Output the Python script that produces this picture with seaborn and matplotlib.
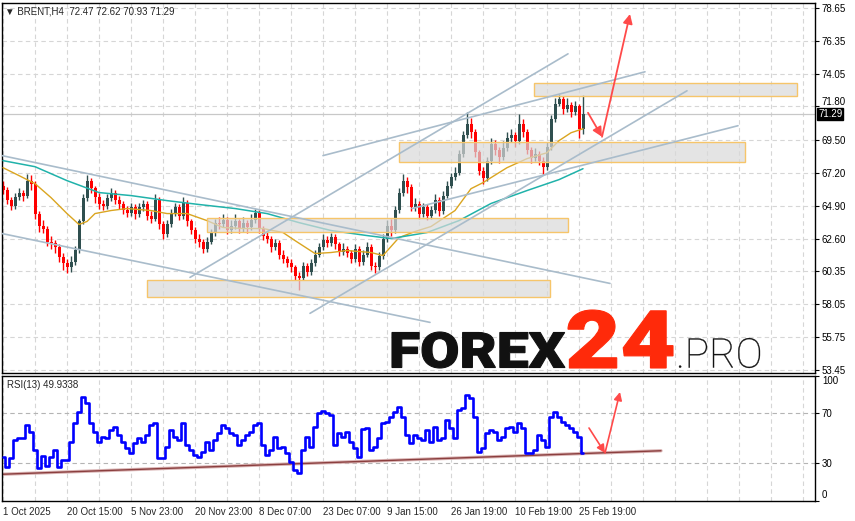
import numpy as np
import pandas as pd
import matplotlib
matplotlib.use("Agg")
import matplotlib.pyplot as plt
import matplotlib.patches as mpatches
import matplotlib.transforms as mtransforms
from matplotlib.textpath import TextPath
from matplotlib.font_manager import FontProperties
import seaborn as sns

# =====================================================
# Data (BRENT H4, one value per ~4px column of the chart)
# =====================================================

first_open = 66.3

closes = [
    66.0, 65.3, 64.9, 65.5, 65.8, 65.6, 66.6, 66.4, 64.3, 63.5,
    63.3, 62.4, 62.3, 62.0, 61.3, 60.9, 60.6, 61.0, 61.8, 63.8,
    65.4, 66.6, 66.1, 65.5, 65.0, 64.9, 65.4, 65.8, 65.3, 65.0,
    64.6, 64.4, 64.8, 64.3, 64.8, 65.0, 64.2, 64.0, 65.3, 63.6,
    62.9, 63.6, 64.4, 64.8, 64.2, 65.1, 63.8, 63.2, 62.6, 62.4,
    61.9, 62.4, 63.0, 63.7, 63.6, 63.9, 63.2, 63.5, 63.8, 63.3,
    63.7, 63.4, 63.9, 64.4, 63.3, 62.8, 62.6, 62.0, 62.3, 61.5,
    61.2, 60.9, 60.6, 60.0, 59.9, 60.7, 60.3, 60.9, 61.5, 62.0,
    62.5, 62.3, 62.7, 62.2, 61.7, 61.9, 61.6, 61.2, 61.9, 61.0,
    61.5, 62.0, 60.7, 60.6, 61.4, 62.6, 63.5, 63.2, 64.6, 65.8,
    66.6, 66.2, 64.8, 65.0, 64.3, 64.8, 64.2, 64.6, 65.3, 64.5,
    65.6, 66.3, 66.9, 67.2, 68.5, 69.8, 70.6, 70.0, 68.6, 67.3,
    66.8, 68.0, 69.2, 68.8, 68.3, 68.9, 69.6, 69.8, 69.4, 70.6,
    70.0, 68.8, 68.2, 68.5, 68.0, 67.6, 69.0, 70.9, 72.0, 72.3,
    71.6, 71.9, 71.4, 71.8, 70.2, 71.29,
]

highs = [
    66.6, 66.2, 65.5, 65.8, 66.1, 66.0, 67.1, 67.0, 66.6, 64.5,
    63.9, 63.5, 62.8, 62.5, 62.2, 61.6, 61.2, 61.4, 62.1, 64.0,
    65.7, 67.0, 66.8, 66.3, 65.8, 65.3, 65.7, 66.1, 66.0, 65.6,
    65.2, 64.9, 65.1, 65.0, 65.1, 65.3, 65.2, 64.5, 65.7, 65.5,
    63.8, 63.9, 64.7, 65.1, 65.0, 65.5, 65.3, 64.0, 63.4, 62.9,
    62.6, 62.7, 63.3, 64.0, 64.1, 64.3, 64.1, 63.9, 64.3, 64.0,
    64.1, 63.9, 64.3, 64.7, 64.6, 63.5, 63.1, 62.8, 62.6, 62.5,
    61.8, 61.4, 61.2, 60.8, 60.3, 61.0, 60.9, 61.2, 61.8, 62.3,
    62.9, 62.8, 63.0, 62.9, 62.4, 62.3, 62.1, 61.8, 62.2, 62.1,
    61.8, 62.4, 62.2, 61.0, 61.7, 62.9, 63.9, 64.0, 64.9, 66.1,
    67.1, 66.9, 66.4, 65.4, 65.2, 65.1, 65.0, 64.9, 65.7, 65.5,
    65.9, 66.6, 67.2, 67.6, 68.8, 70.1, 71.4, 71.0, 70.2, 68.8,
    67.6, 68.3, 69.6, 69.5, 69.0, 69.4, 70.0, 70.2, 70.0, 71.3,
    70.9, 70.2, 69.0, 68.9, 68.7, 68.3, 69.3, 71.2, 72.4, 72.7,
    72.5, 72.4, 72.1, 72.2, 72.0, 72.62,
]

lows = [
    65.7, 65.0, 64.6, 64.7, 65.3, 65.2, 65.4, 66.0, 64.0, 63.1,
    63.0, 62.1, 61.9, 61.6, 61.0, 60.4, 60.2, 60.3, 60.8, 61.6,
    63.6, 65.2, 65.8, 65.1, 64.7, 64.6, 64.7, 65.2, 65.0, 64.7,
    64.3, 64.1, 64.2, 64.0, 64.1, 64.5, 63.9, 63.7, 63.8, 63.3,
    62.6, 62.7, 63.4, 64.2, 63.9, 64.0, 63.5, 62.9, 62.3, 62.0,
    61.6, 61.7, 62.2, 62.8, 63.3, 63.4, 62.9, 63.0, 63.3, 63.0,
    63.1, 63.0, 63.2, 63.7, 63.0, 62.5, 62.3, 61.7, 61.8, 61.2,
    60.9, 60.6, 60.3, 59.7, 59.0, 59.7, 60.0, 60.1, 60.7, 61.3,
    61.8, 62.0, 62.1, 61.9, 61.4, 61.5, 61.3, 60.9, 61.0, 60.7,
    60.8, 61.3, 60.4, 60.2, 60.4, 61.2, 62.4, 62.8, 63.0, 64.4,
    65.6, 65.8, 64.5, 64.5, 64.0, 64.1, 63.9, 64.0, 64.4, 64.2,
    64.3, 65.4, 66.1, 66.7, 67.0, 68.3, 69.6, 69.6, 68.3, 67.0,
    66.4, 66.6, 67.8, 68.4, 67.9, 68.1, 68.7, 69.3, 69.0, 69.2,
    69.7, 68.5, 67.9, 68.0, 67.7, 67.0, 67.4, 68.8, 70.7, 71.8,
    71.3, 71.4, 71.1, 71.2, 69.6, 69.9,
]

# moving averages (read at sparse bars)
ma_fast_bars = [0, 4, 8, 12, 16, 19, 21, 23, 27, 31, 37, 41, 46, 51, 55, 60, 65, 70,
                73, 78, 82, 86, 92, 95, 99, 103, 107, 113, 117, 120, 126, 131, 136,
                139, 142, 145]
ma_fast = [67.54, 66.99, 66.43, 65.46, 64.35, 63.59, 63.80, 64.35, 64.56, 64.70,
           64.56, 64.35, 64.35, 63.86, 63.38, 63.31, 63.31, 63.03, 62.47, 61.57,
           61.64, 61.78, 61.64, 61.43, 62.68, 63.10, 63.45, 64.56, 66.08, 66.50,
           67.54, 68.17, 68.58, 69.42, 69.97, 70.25]

ma_slow_bars = [0, 8, 16, 24, 32, 41, 49, 58, 66, 74, 82, 91, 97, 106, 114, 122,
                131, 139, 145]
ma_slow = [68.03, 67.61, 66.64, 65.81, 65.60, 65.25, 64.98, 64.70, 64.35, 63.72,
           63.17, 62.82, 62.61, 63.03, 63.86, 65.05, 65.95, 66.71, 67.47]

rsi = [
    35.1, 27.1, 33.7, 48.4, 49.7, 49.7, 60.4, 55.1, 40.4, 25.7,
    35.6, 27.6, 35.1, 40.4, 27.1, 32.4, 32.4, 47.1, 61.7, 71.1,
    82.5, 77.7, 61.7, 55.1, 47.1, 51.1, 49.7, 56.4, 59.1, 52.4,
    47.1, 41.7, 37.7, 45.7, 49.7, 47.1, 52.4, 60.4, 61.7, 33.7,
    33.7, 43.1, 56.4, 51.1, 48.4, 61.7, 44.4, 40.4, 36.4, 35.1,
    39.1, 47.1, 40.4, 48.4, 53.7, 60.4, 57.7, 53.7, 52.4, 44.4,
    48.4, 52.4, 55.1, 60.4, 61.7, 44.4, 36.4, 40.4, 51.1, 41.7,
    43.1, 37.7, 31.1, 24.4, 21.7, 40.4, 51.1, 43.1, 59.1, 69.7,
    71.9, 70.3, 68.4, 44.4, 53.7, 51.1, 55.1, 47.1, 41.7, 35.1,
    56.9, 57.7, 40.4, 43.1, 49.7, 61.7, 63.1, 67.1, 71.1, 75.1,
    67.1, 52.4, 45.7, 52.4, 49.7, 48.4, 56.4, 47.1, 59.1, 48.4,
    49.7, 64.4, 57.7, 49.7, 72.4, 73.7, 84.4, 81.7, 67.1, 39.1,
    41.7, 53.7, 56.4, 55.1, 48.4, 51.1, 57.7, 59.1, 55.1, 61.7,
    57.7, 37.7, 37.7, 40.4, 52.4, 48.4, 43.1, 67.1, 71.1, 67.1,
    63.1, 60.4, 57.7, 55.1, 51.1, 37.7,
]

# support / resistance zones
zone_start = [132.75, 99.0, 51.0, 36.0]
zone_end = [198.5, 185.5, 141.25, 136.75]
zone_low = [72.54, 67.96, 63.10, 58.52]
zone_high = [73.44, 69.35, 64.07, 59.70]

# trend lines (bar, price) -> (bar, price)
trend_b0 = [-0.25, -0.25, 76.75, 46.75, 80.0, 102.25]
trend_p0 = [68.38, 62.96, 57.41, 59.91, 68.38, 64.70]
trend_b1 = [151.75, 106.75, 171.0, 141.25, 160.5, 183.75]
trend_p1 = [59.49, 56.78, 72.89, 75.46, 74.21, 70.46]

# forecast arrows
arrow_bars = [146.25, 149.75, 156.75]
arrow_prices = [71.36, 69.69, 78.23]
rsi_arrow_bars = [146.5, 150.5, 154.25]
rsi_arrow_vals = [58.0, 38.0, 86.8]

rsi_trend_bars = [-0.25, 164.5]
rsi_trend_vals = [21.0, 39.8]

price_ticks = [78.65, 76.35, 74.05, 71.80, 69.50, 67.20, 64.90, 62.60,
               60.35, 58.05, 55.75, 53.45]
rsi_ticks = [100, 70, 30, 0]
time_labels = ["1 Oct 2025", "20 Oct 15:00", "5 Nov 23:00", "20 Nov 23:00",
               "8 Dec 07:00", "23 Dec 07:00", "9 Jan 15:00", "26 Jan 19:00",
               "10 Feb 19:00", "25 Feb 19:00"]
time_label_bars = [0, 16, 32, 48, 64, 80, 96, 112, 128, 144]

last_price = 71.29

# =====================================================
# Style
# =====================================================

sns.set_style("white")
plt.rcParams["font.family"] = ["Liberation Sans", "DejaVu Sans"]
plt.rcParams["font.size"] = 7

BULL = "#2F4F4F"
BEAR = "#FF0000"
GRID = "#D6D6D6"
TREND = "#A9BCCB"
ARROW = "#FF4A4A"

bars = np.arange(len(closes))
df = pd.DataFrame({
    "bar": bars,
    "open": np.r_[first_open, closes[:-1]],
    "high": highs,
    "low": lows,
    "close": closes,
})
up = df["close"] >= df["open"]
colors = np.where(up, BULL, BEAR)

W, H = 855, 521
fig = plt.figure(figsize=(W / 100, H / 100), dpi=100)
fig.patch.set_facecolor("white")

ax = fig.add_axes([2 / W, 1 - 373 / H, 813 / W, 370.5 / H])
ax2 = fig.add_axes([2 / W, 1 - 500.5 / H, 813 / W, 125 / H])

x_min, x_max = -0.25, 203.0
ax.set_xlim(x_min, x_max)
ax2.set_xlim(x_min, x_max)
ax.set_ylim(53.26, 79.03)
ax2.set_ylim(0, 100)

# grid
for a in (ax, ax2):
    for g in range(0, 204, 8):
        a.axvline(g, color=GRID, lw=0.8, ls=(0, (4, 3)), zorder=0)
for p in price_ticks:
    ax.axhline(p, color=GRID, lw=0.8, ls=(0, (4, 3)), zorder=0)
for lv in (70, 30):
    ax2.axhline(lv, color="#B4B4B4", lw=0.8, ls=(0, (4, 3)), zorder=0)

ax.axhline(last_price, color="#C8C8C8", lw=0.9, zorder=1)

# =====================================================
# Candles
# =====================================================

ax.vlines(df["bar"], df["low"], df["high"], colors=colors, lw=1.0, zorder=2)
body = (df["close"] - df["open"]).abs().clip(lower=0.06)
ax.bar(df["bar"], body, bottom=df[["open", "close"]].min(axis=1),
       width=0.75, color=colors, linewidth=0, zorder=2)

# moving averages
sns.lineplot(x=ma_fast_bars, y=ma_fast, ax=ax, color="#DAA520", lw=1.0,
             sort=False, zorder=3)
sns.lineplot(x=ma_slow_bars, y=ma_slow, ax=ax, color="#20B2AA", lw=1.1,
             sort=False, zorder=3)

# zones
for b0, b1, lo, hi in zip(zone_start, zone_end, zone_low, zone_high):
    ax.add_patch(mpatches.Rectangle((b0, lo), b1 - b0, hi - lo,
                                    facecolor="#D9D9D9", alpha=0.7,
                                    edgecolor="none", zorder=4))
    ax.add_patch(mpatches.Rectangle((b0, lo), b1 - b0, hi - lo,
                                    facecolor="none", edgecolor="#F6C56A",
                                    lw=1.0, zorder=4))

# trend lines
for b0, p0, b1, p1 in zip(trend_b0, trend_p0, trend_b1, trend_p1):
    ax.plot([b0, b1], [p0, p1], color=TREND, lw=1.2, zorder=5)

# arrows
for i in range(2):
    ax.annotate("", xy=(arrow_bars[i + 1], arrow_prices[i + 1]),
                xytext=(arrow_bars[i], arrow_prices[i]),
                arrowprops=dict(arrowstyle="-|>", color=ARROW, lw=1.3,
                                mutation_scale=14, shrinkA=0, shrinkB=0),
                zorder=6)

# =====================================================
# RSI
# =====================================================

ax2.plot(rsi_trend_bars, rsi_trend_vals, color="#D9B3B3", lw=2.4, zorder=2)
ax2.plot(rsi_trend_bars, rsi_trend_vals, color="#8B3F3F", lw=1.0, zorder=2)
sns.lineplot(x=bars, y=rsi, ax=ax2, color="#0000FF", lw=1.9,
             drawstyle="steps-mid", zorder=3)
for i in range(2):
    ax2.annotate("", xy=(rsi_arrow_bars[i + 1], rsi_arrow_vals[i + 1]),
                 xytext=(rsi_arrow_bars[i], rsi_arrow_vals[i]),
                 arrowprops=dict(arrowstyle="-|>", color=ARROW, lw=1.2,
                                 mutation_scale=12, shrinkA=0, shrinkB=0),
                 zorder=6)

# =====================================================
# Axes & labels
# =====================================================

for a in (ax, ax2):
    for s in a.spines.values():
        s.set_visible(True)
        s.set_color("black")
        s.set_linewidth(1.0)
    a.set_xlabel("")
    a.set_ylabel("")
    a.yaxis.tick_right()
    a.tick_params(axis="y", direction="out", length=3, width=0.8,
                  pad=2, labelsize=7, colors="black")

ax.set_xticks([])
ax.set_yticks(price_ticks)
ax.set_yticklabels([f"{p:.2f}" for p in price_ticks])
# the 71.80 label sits just above the current-price box
shift_up = mtransforms.ScaledTranslation(0, 4 / 72, fig.dpi_scale_trans)
for lab in ax.get_yticklabels():
    if lab.get_text() == "71.80":
        lab.set_transform(lab.get_transform() + shift_up)

ax2.set_yticks(rsi_ticks)
ax2.set_yticklabels([str(t) for t in rsi_ticks])
ylabs = ax2.get_yticklabels()
ylabs[0].set_va("top")
ylabs[-1].set_va("bottom")

ax2.set_xticks(time_label_bars)
ax2.set_xticklabels(time_labels, ha="left")
ax2.tick_params(axis="x", direction="out", length=3, width=0.8, pad=2,
                labelsize=7)

ax.text(1 + 3 / 813, last_price, f"{last_price:.2f}",
        transform=ax.get_yaxis_transform(), ha="left", va="center",
        fontsize=7, color="white",
        bbox=dict(boxstyle="square,pad=0.12", facecolor="black",
                  edgecolor="black"), zorder=10, clip_on=False)

fig.text(5 / W, 1 - 11 / H, "\u25bc BRENT,H4  72.47 72.62 70.93 71.29",
         ha="left", va="center", fontsize=7)
fig.text(7 / W, 1 - 385 / H, "RSI(13) 49.9338", ha="left", va="center",
         fontsize=7)

# =====================================================
# Logo (text outlines fitted to the watermark's box)
# =====================================================

def logo_part(text, weight, color, left, top, right, bottom, lw):
    prop = FontProperties(family="Roboto", weight=weight)
    path = TextPath((0, 0), text, size=100, prop=prop)
    ext = path.get_extents()
    sx = (right - left) / ext.width
    sy = (bottom - top) / ext.height
    tr = (mtransforms.Affine2D()
          .translate(-ext.x0, -ext.y0)
          .scale(sx, sy)
          .translate(left, H - bottom))
    patch = mpatches.PathPatch(tr.transform_path(path), facecolor=color,
                               edgecolor=color, lw=lw,
                               transform=mtransforms.IdentityTransform(),
                               zorder=20)
    fig.add_artist(patch)


logo_part("FOREX", 900, "#111111", 392, 332, 565, 368, 0.8)
logo_part("24", 900, "#FF2A0A", 568, 310, 673, 368, 0.8)
logo_part(".PRO", "light", "#111111", 679, 338, 760, 368, 0.2)

fig.savefig("out.png", dpi=100, facecolor="white")
